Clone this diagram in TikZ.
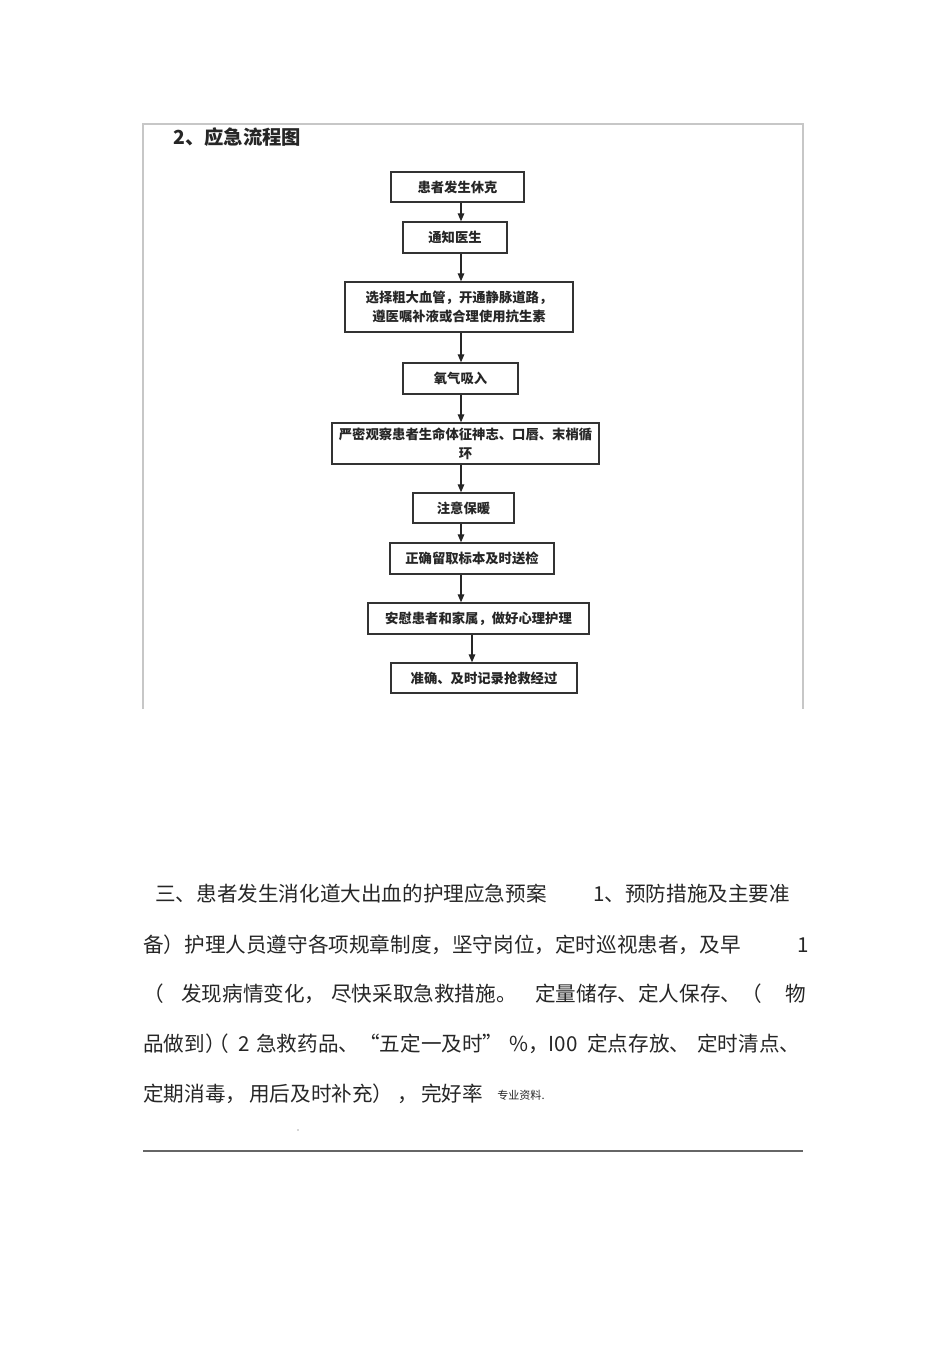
\documentclass[tikz,border=0pt]{standalone}
\usepackage{fontspec}
\setmainfont{Noto Sans CJK SC}
\usetikzlibrary{arrows.meta}
\begin{document}
\begin{tikzpicture}[x=0.75pt,y=-0.75pt,
  flowbox/.style={draw=black!80, line width=1.1pt, fill=white, inner sep=0pt, align=center,
    font=\fontsize{10}{14.5}\selectfont\bfseries, text=black!85},
  arr/.style={draw=black!85, line width=0.8pt, -{Triangle[width=5pt,length=6pt]}},
  frameline/.style={draw=black!22, line width=1.1pt},
  body/.style={anchor=base west, inner sep=0pt, font=\fontsize{15.45}{18}\selectfont, text=black!85},
  smallnote/.style={anchor=base west, inner sep=0pt, font=\fontsize{8.3}{10}\selectfont, text=black!85},
  titletext/.style={anchor=base west, inner sep=0pt, font=\fontsize{14.5}{17}\selectfont\bfseries, text=black!85}
]
\useasboundingbox (0,0) rectangle (950,1345);
% frame
\coordinate (fbl) at (143,709);
\coordinate (ftl) at (143,124);
\coordinate (ftr) at (803,124);
\coordinate (fbr) at (803,709);
\draw[frameline] (fbl) -- (ftl) -- (ftr) -- (fbr);
\node[titletext] (title) at (173,144.5) {2、应急流程图};
% boxes
\node[flowbox, minimum width=99.75pt, minimum height=22.5pt] (b1) at (457.5,187) {患者发生休克};
\node[flowbox, minimum width=78pt, minimum height=23.25pt] (b2) at (455,237.5) {通知医生};
\node[flowbox, minimum width=171pt, minimum height=37.5pt] (b3) at (459,307) {选择粗大血管，开通静脉道路，\\遵医嘱补液或合理使用抗生素};
\node[flowbox, minimum width=86.25pt, minimum height=23.25pt] (b4) at (460.5,378.5) {氧气吸入};
\node[flowbox, minimum width=200.25pt, minimum height=30.75pt] (b5) at (465.5,443.5) {严密观察患者生命体征神志、口唇、末梢循\\环};
\node[flowbox, minimum width=75.75pt, minimum height=22.5pt] (b6) at (463.5,508) {注意保暖};
\node[flowbox, minimum width=123pt, minimum height=23.25pt] (b7) at (472,558.5) {正确留取标本及时送检};
\node[flowbox, minimum width=165.75pt, minimum height=23.25pt] (b8) at (478.5,618.5) {安慰患者和家属，做好心理护理};
\node[flowbox, minimum width=139.5pt, minimum height=22.5pt] (b9) at (484,678) {准确、及时记录抢救经过};
% arrows
\coordinate (ax) at (461,0);
\coordinate (ax2) at (472,0);
\draw[arr] (b1.south -| ax) -- (b2.north -| ax);
\draw[arr] (b2.south -| ax) -- (b3.north -| ax);
\draw[arr] (b3.south -| ax) -- (b4.north -| ax);
\draw[arr] (b4.south -| ax) -- (b5.north -| ax);
\draw[arr] (b5.south -| ax) -- (b6.north -| ax);
\draw[arr] (b6.south -| ax) -- (b7.north -| ax);
\draw[arr] (b7.south -| ax) -- (b8.north -| ax);
\draw[arr] (b8.south -| ax2) -- (b9.north -| ax2);
% body text
\node[body] (l1a) at (155,901) {三、患者发生消化道大出血的护理应急预案};
\node[body] (l1b) at (593,901) {1、预防措施及主要准};
\node[body] (l2a) at (143,952) {备）护理人员遵守各项规章制度，坚守岗位，定时巡视患者，及早};
\node[body] (l2b) at (797,952) {1};
\node[body] (l3a) at (143,1001) {（};
\node[body] (l3b) at (181,1001) {发现病情变化，};
\node[body] (l3c) at (331,1001) {尽快采取急救措施。};
\node[body] (l3d) at (535,1001) {定量储存、定人保存、（};
\node[body] (l3e) at (785,1001) {物};
\node[body] (l4a) at (143,1051) {品做到）};
\node[body] (l4b) at (208,1051) {（};
\node[body] (l4c) at (238,1051) {2};
\node[body] (l4d) at (256,1051) {急救药品、“五定一及时”};
\node[body] (l4e) at (509,1051) {\%，I00};
\node[body] (l4f) at (587,1051) {定点存放、};
\node[body] (l4g) at (697,1051) {定时清点、};
\node[body] (l5a) at (143,1101) {定期消毒，};
\node[body] (l5b) at (249,1101) {用后及时补充）};
\node[body] (l5c) at (397,1101) {，};
\node[body] (l5d) at (421,1101) {完好率};
\node[smallnote] (note) at (497,1099) {专业资料.};
% dot and bottom rule
\fill[black!70] (298,1130) circle (0.6);
\coordinate (rl) at (143,1151);
\coordinate (rr) at (803,1151);
\draw[draw=black!60, line width=1.4pt] (rl) -- (rr);
\end{tikzpicture}
\end{document}
